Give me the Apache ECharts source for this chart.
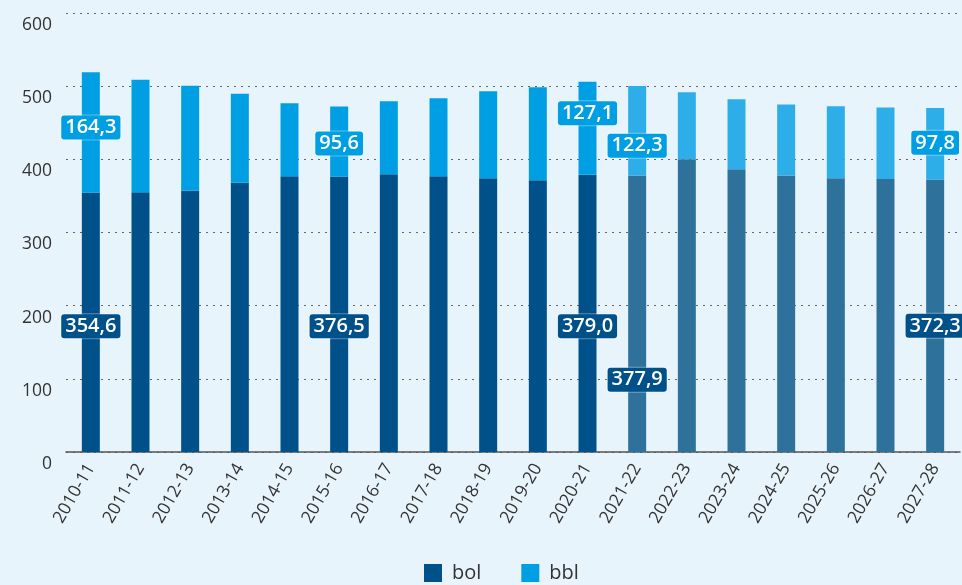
<!DOCTYPE html>
<html>
<head>
<meta charset="utf-8">
<script src="https://cdn.jsdelivr.net/npm/echarts@6/dist/echarts.min.js"></script>
<style>
  html, body { margin: 0; padding: 0; background: #e8f4fc; }
  #chart { width: 962px; height: 585px; }
</style>
</head>
<body>
<div id="chart"></div>
<script>
var years = ["2010-11", "2011-12", "2012-13", "2013-14", "2014-15", "2015-16", "2016-17",
  "2017-18", "2018-19", "2019-20", "2020-21", "2021-22", "2022-23", "2023-24",
  "2024-25", "2025-26", "2026-27", "2027-28"];
var bol = [354.6, 355.0, 357.0, 368.0, 377.0, 376.5, 379.5, 377.0, 374.0, 371.5,
  379.0, 377.9, 400.0, 386.5, 378.0, 374.0, 373.0, 372.3];
var bbl = [164.3, 153.6, 143.5, 121.5, 99.5, 95.6, 100.0, 106.5, 119.0, 127.0,
  127.1, 122.3, 91.6, 95.5, 97.0, 98.4, 98.0, 97.8];
var yTicks = [0, 100, 200, 300, 400, 500, 600];
var firstForecast = 11; // 2021-22 en later: prognose

// welke balken een label krijgen, met kleine verschuiving (px) t.o.v. het midden
var bolLabels = { 0: 4, 5: 12, 10: 13, 11: 66, 17: 10 };
var bblLabels = { 0: -5, 5: 2, 10: -15, 11: 15, 17: -1 };

var colBol = "#00508a", colBbl = "#009fe3";
var colBolF = "#2e729c", colBblF = "#2eaee8";

function labelFor(bg, dy) {
  return {
    show: true,
    position: "inside",
    offset: [0, dy],
    color: "#fff",
    fontWeight: 600,
    fontSize: 20,
    fontFamily: "Open Sans",
    backgroundColor: bg,
    borderColor: "rgba(255,255,255,0.35)",
    borderWidth: 1,
    borderRadius: 3,
    padding: [3, 4, 1, 4],
    formatter: function (p) { return p.value.toFixed(1).replace(".", ","); }
  };
}

function buildData(vals, labels, col, colF) {
  return vals.map(function (v, i) {
    var item = { value: v, itemStyle: { color: i >= firstForecast ? colF : col } };
    if (labels[i] !== undefined) item.label = labelFor(col, labels[i]);
    return item;
  });
}

var myChart = echarts.init(document.getElementById("chart"));
var option = {
  backgroundColor: "#e8f4fc",
  animation: false,
  textStyle: { fontFamily: "Open Sans" },
  grid: { left: 66, right: 2, top: 13, bottom: 133 },
  legend: {
    bottom: -3,
    left: 419,
    itemWidth: 18,
    itemHeight: 18,
    itemGap: 40,
    icon: "rect",
    textStyle: { fontSize: 20, color: "#333", fontFamily: "Open Sans", padding: [0, 0, 0, 5] },
    data: ["bol", "bbl"]
  },
  xAxis: {
    type: "category",
    data: years,
    axisTick: { show: false },
    axisLine: { lineStyle: { color: "#555", width: 1.5 } },
    axisLabel: { rotate: 60, fontSize: 17.5, color: "#333", margin: 13, interval: 0 }
  },
  yAxis: {
    type: "value",
    min: yTicks[0],
    max: yTicks[yTicks.length - 1],
    interval: 100,
    axisLine: { show: false },
    axisTick: { show: false },
    axisLabel: { fontSize: 17.5, color: "#333", verticalAlign: "top", margin: 14, padding: [3, 0, 0, 0] },
    splitLine: { lineStyle: { color: "#666", type: [2, 5], width: 1.2 } }
  },
  series: [
    {
      name: "bol",
      type: "bar",
      stack: "tot",
      barWidth: 18,
      itemStyle: { color: colBol },
      data: buildData(bol, bolLabels, colBol, colBolF)
    },
    {
      name: "bbl",
      type: "bar",
      stack: "tot",
      barWidth: 18,
      itemStyle: { color: colBbl },
      data: buildData(bbl, bblLabels, colBbl, colBblF)
    }
  ]
};
myChart.setOption(option);
</script>
</body>
</html>
